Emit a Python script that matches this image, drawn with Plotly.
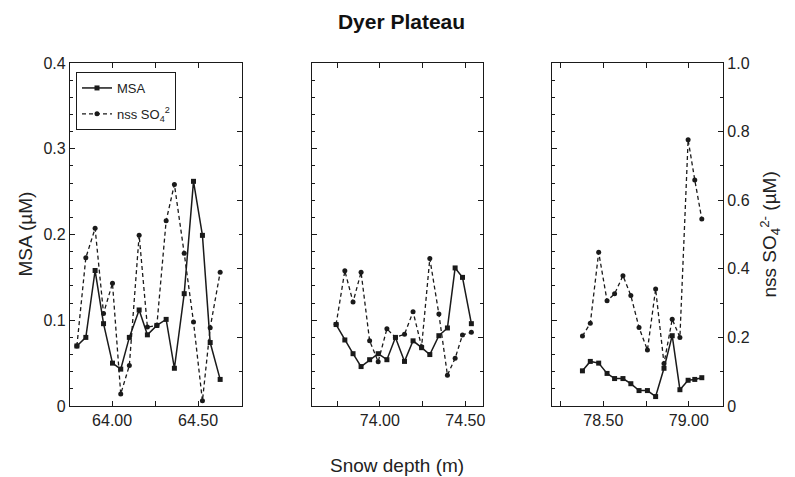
import plotly.graph_objects as go

# ---------------- data ----------------
# Panel 1
depth_p1 = [63.795, 63.847, 63.901, 63.950, 64.002, 64.050, 64.100, 64.157, 64.205,
            64.260, 64.314, 64.362, 64.419, 64.473, 64.525, 64.570, 64.628]
msa_p1 = [0.070, 0.080, 0.158, 0.096, 0.050, 0.043, 0.080, 0.112, 0.083,
          0.094, 0.101, 0.044, 0.131, 0.262, 0.199, 0.074, 0.031]
nss_p1 = [0.175, 0.432, 0.518, 0.270, 0.358, 0.035, 0.118, 0.498, 0.230,
          0.235, 0.540, 0.646, 0.445, 0.245, 0.015, 0.228, 0.390]

# Panel 2
depth_p2 = [73.744, 73.795, 73.843, 73.890, 73.940, 73.990, 74.041, 74.091, 74.144,
            74.194, 74.244, 74.292, 74.345, 74.395, 74.440, 74.483, 74.535]
msa_p2 = [0.095, 0.077, 0.061, 0.046, 0.054, 0.061, 0.054, 0.080, 0.052,
          0.076, 0.068, 0.060, 0.082, 0.091, 0.161, 0.150, 0.096]
nss_p2 = [0.238, 0.394, 0.303, 0.390, 0.190, 0.129, 0.225, 0.200, 0.209,
          0.275, 0.173, 0.430, 0.268, 0.090, 0.139, 0.207, 0.215]

# Panel 3
depth_p3 = [78.378, 78.424, 78.473, 78.522, 78.566, 78.615, 78.661, 78.709,
            78.758, 78.806, 78.855, 78.903, 78.948, 78.996, 79.035, 79.076]
msa_p3 = [0.041, 0.052, 0.050, 0.038, 0.032, 0.032, 0.026, 0.018,
          0.018, 0.011, 0.044, 0.082, 0.019, 0.030, 0.031, 0.033]
nss_p3 = [0.204, 0.241, 0.448, 0.307, 0.327, 0.380, 0.322, 0.229,
          0.163, 0.341, 0.124, 0.253, 0.200, 0.776, 0.659, 0.545]

# Axis ranges and ticks
x_range_p1 = [63.755, 64.755]
x_range_p2 = [73.603, 74.603]
x_range_p3 = [78.200, 79.200]
x_labelvals_p1 = [64.00, 64.50]
x_labeltext_p1 = ["64.00", "64.50"]
x_minorvals_p1 = [64.25]
x_labelvals_p2 = [74.00, 74.50]
x_labeltext_p2 = ["74.00", "74.50"]
x_minorvals_p2 = [73.75, 74.25]
x_labelvals_p3 = [78.50, 79.00]
x_labeltext_p3 = ["78.50", "79.00"]
x_minorvals_p3 = [78.25, 78.75]
msa_tickvals = [0, 0.1, 0.2, 0.3, 0.4]
msa_ticktext = ["0", "0.1", "0.2", "0.3", "0.4"]
nss_tickvals = [0, 0.2, 0.4, 0.6, 0.8, 1.0]
nss_ticktext = ["0", "0.2", "0.4", "0.6", "0.8", "1.0"]

title_text = "Dyer Plateau"
xlabel = "Snow depth (m)"
ylabel_left = "MSA (µM)"
ylabel_right = "nss SO<sub>4</sub><sup>2-</sup> (µM)"
legend_msa = "MSA"
legend_nss = "nss SO<sub>4</sub><sup>2</sup>"

# ---------------- figure ----------------
FONT = "Liberation Sans, Arial, sans-serif"
INK = "#1a1a1a"

fig = go.Figure()

panels = [
    (depth_p1, msa_p1, nss_p1, "x", "y", "y2"),
    (depth_p2, msa_p2, nss_p2, "x2", "y3", "y4"),
    (depth_p3, msa_p3, nss_p3, "x3", "y5", "y6"),
]
for i, (d, m, n, xa, ya, yb) in enumerate(panels):
    fig.add_trace(go.Scatter(
        x=d, y=m, xaxis=xa, yaxis=ya, mode="lines+markers", name=legend_msa,
        legendgroup="msa", showlegend=(i == 0),
        line=dict(color=INK, width=1.5),
        marker=dict(symbol="square", size=5, color=INK)))
    fig.add_trace(go.Scatter(
        x=d, y=n, xaxis=xa, yaxis=yb, mode="lines+markers", name=legend_nss,
        legendgroup="nss", showlegend=(i == 0),
        line=dict(color=INK, width=1.3, dash="4px,3px"),
        marker=dict(symbol="circle", size=5, color=INK)))

# The page puts the figure 8px in from the top-left corner of the window.
OFF = 8
W, H = 795 - OFF, 477 - OFF
ml, mt = 70 - OFF, 63 - OFF
mr = W - (723 - OFF)
mb = H - (406 - OFF)
pw = W - ml - mr
ph = H - mt - mb
domains = [[0, 172 / pw], [(312 - 70) / pw, (483 - 70) / pw], [(552 - 70) / pw, 1.0]]

tickfont = dict(family=FONT, size=16, color="#222")

def xaxis_cfg(dom, rng, tv, tt, mv, yanchor):
    return dict(domain=dom, range=rng, anchor=yanchor, tickvals=tv, ticktext=tt,
                ticks="inside", ticklen=5, tickwidth=1, tickcolor=INK,
                minor=dict(tickvals=mv, ticks="inside", ticklen=5, tickwidth=1,
                           tickcolor=INK, showgrid=False),
                showline=True, linecolor=INK, linewidth=1.2, mirror="ticks",
                showgrid=False, zeroline=False, tickfont=tickfont)

def yleft_cfg(xanchor, labels):
    return dict(range=[0, 0.4], anchor=xanchor, tickvals=msa_tickvals,
                ticktext=msa_ticktext, showticklabels=labels,
                ticks="inside", ticklen=5, tickwidth=1, tickcolor=INK,
                minor=dict(dtick=0.02, ticks="inside", ticklen=3, tickcolor=INK),
                showline=True, linecolor=INK, linewidth=1.2,
                showgrid=False, zeroline=False, tickfont=tickfont)

def yright_cfg(xanchor, over, labels):
    return dict(range=[0, 1.0], anchor=xanchor, overlaying=over, side="right",
                tickvals=nss_tickvals, ticktext=nss_ticktext, showticklabels=labels,
                ticks="inside", ticklen=5, tickwidth=1, tickcolor=INK,
                minor=dict(dtick=0.1, ticks="inside", ticklen=3, tickcolor=INK),
                showline=True, linecolor=INK, linewidth=1.2,
                showgrid=False, zeroline=False, tickfont=tickfont)

fig.update_layout(
    width=W, height=H,
    margin=dict(l=ml, r=mr, t=mt, b=mb, pad=0),
    paper_bgcolor="white", plot_bgcolor="white",
    font=dict(family=FONT, color=INK),
    title=dict(text="<b>" + title_text + "</b>", x=0.5, xanchor="center",
               y=1 - (22 - OFF) / H, yanchor="middle", yref="container",
               font=dict(family=FONT, size=21, color="#111")),
    xaxis=xaxis_cfg(domains[0], x_range_p1, x_labelvals_p1, x_labeltext_p1, x_minorvals_p1, "y"),
    xaxis2=xaxis_cfg(domains[1], x_range_p2, x_labelvals_p2, x_labeltext_p2, x_minorvals_p2, "y3"),
    xaxis3=xaxis_cfg(domains[2], x_range_p3, x_labelvals_p3, x_labeltext_p3, x_minorvals_p3, "y5"),
    yaxis=yleft_cfg("x", True),
    yaxis2=yright_cfg("x", "y", False),
    yaxis3=yleft_cfg("x2", False),
    yaxis4=yright_cfg("x2", "y3", False),
    yaxis5=yleft_cfg("x3", False),
    yaxis6=yright_cfg("x3", "y5", True),
    legend=dict(x=6 / pw, y=1 - 9 / ph, xanchor="left", yanchor="top",
                bgcolor="white", bordercolor=INK, borderwidth=1,
                font=dict(family=FONT, size=13, color="#222"),
                tracegroupgap=6),
    annotations=[
        dict(text=xlabel, x=0.5, y=-60 / ph, xref="paper", yref="paper",
             xanchor="center", yanchor="middle", showarrow=False,
             font=dict(family=FONT, size=19, color="#222")),
        dict(text=ylabel_left, x=(25 - 70) / pw, y=0.5, xref="paper", yref="paper",
             xanchor="center", yanchor="middle", showarrow=False, textangle=-90,
             font=dict(family=FONT, size=19, color="#222")),
        dict(text=ylabel_right, x=(770 - 70) / pw, y=0.5, xref="paper", yref="paper",
             xanchor="center", yanchor="middle", showarrow=False, textangle=-90,
             font=dict(family=FONT, size=19, color="#222")),
    ],
)

fig.write_html("out.html")
